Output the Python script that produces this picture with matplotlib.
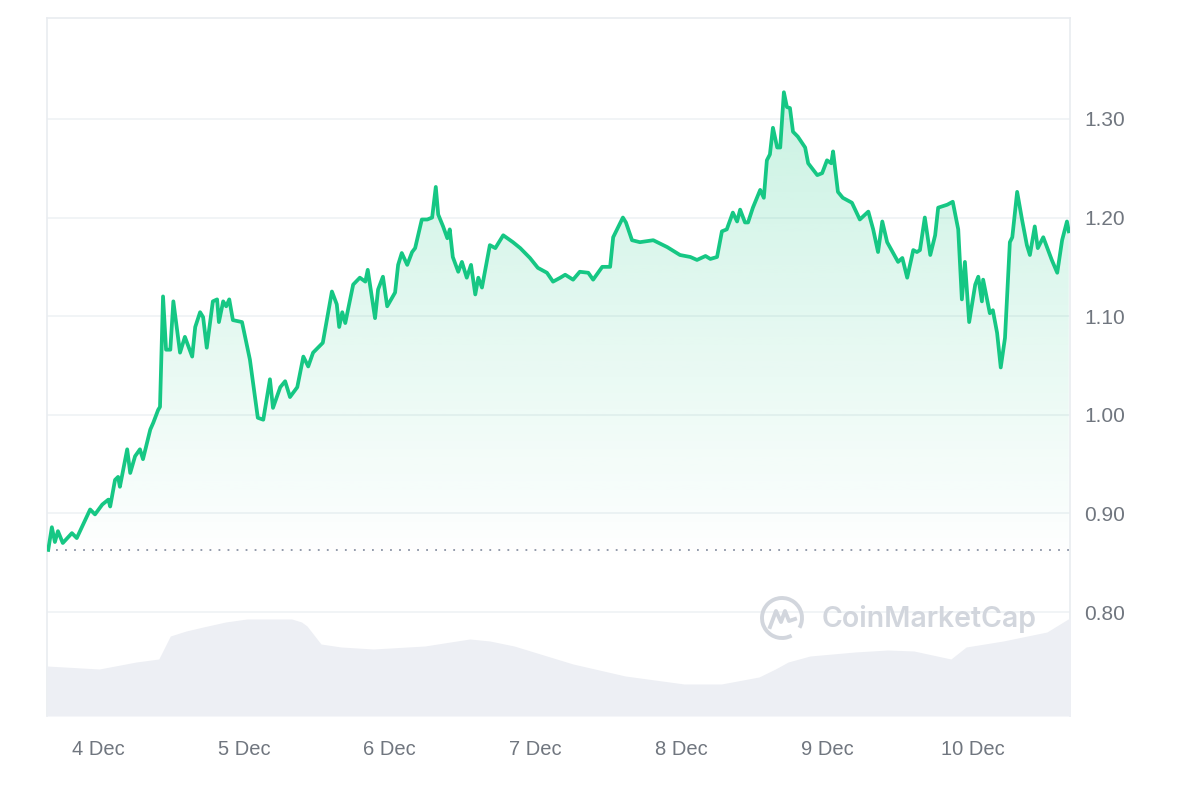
import matplotlib
matplotlib.use("Agg")
import matplotlib.pyplot as plt
import numpy as np
from matplotlib.patches import Arc

# hours since 4 Dec 00:00 and price in USD
hours = [-8.2, -7.6, -7.1, -6.6, -5.8, -4.3, -3.5, -1.3, -0.5, 0.7, 1.7, 2.0, 2.8, 3.3, 3.6,
         4.8, 5.3, 6.1, 6.9, 7.4, 8.6, 9.1, 9.9, 10.2, 10.7, 11.2, 11.9, 12.4, 13.5, 14.3,
         15.5, 16.0, 16.8, 17.3, 17.9, 18.9, 19.6, 19.9, 20.6, 21.1, 21.6, 22.2, 23.7, 25.0,
         26.3, 27.2, 28.3, 28.8, 30.0, 30.8, 31.6, 32.8, 33.8, 34.6, 35.4, 37.0, 38.5, 39.3,
         39.7, 40.2, 40.7, 42.0, 43.1, 44.0, 44.4, 45.6, 46.1, 46.9, 47.6, 48.9, 49.4, 50.0,
         50.9, 51.7, 52.2, 53.3, 54.2, 55.0, 55.6, 56.0, 56.8, 57.5, 57.9, 58.4, 59.3, 59.9,
         60.7, 61.4, 62.1, 62.6, 63.2, 64.5, 65.4, 66.7, 68.3, 69.5, 71.1, 72.4, 73.9, 74.9,
         76.1, 76.9, 78.2, 79.3, 80.7, 81.5, 83.0, 84.3, 84.8, 85.6, 86.4, 86.9, 87.9, 89.2,
         91.4, 93.7, 95.8, 97.5, 98.6, 100.0, 100.8, 101.9, 102.7, 103.5, 104.5, 105.2, 105.7,
         106.5, 107.0, 107.8, 109.0, 109.6, 110.1, 110.6, 111.1, 111.8, 112.3, 112.9, 113.4,
         113.9, 114.4, 115.2, 116.4, 116.9, 118.4, 119.2, 120.0, 120.7, 121.0, 121.8, 122.6,
         124.1, 125.4, 126.8, 127.6, 128.4, 129.1, 129.9, 131.7, 132.4, 133.2, 134.2, 134.8,
         135.3, 136.1, 137.0, 137.8, 138.3, 139.8, 140.7, 141.6, 142.2, 142.7, 143.4, 144.4,
         144.9, 145.5, 145.7, 146.8, 147.3, 148.0, 148.6, 149.3, 150.1, 150.5, 151.3, 152.1,
         152.9, 153.4, 154.2, 154.7, 155.6, 157.0, 157.9, 158.7, 159.5, 159.8]
prices = [0.863, 0.886, 0.871, 0.882, 0.870, 0.880, 0.875, 0.904, 0.899, 0.909, 0.914, 0.907, 0.934, 0.937, 0.927,
          0.965, 0.941, 0.958, 0.965, 0.955, 0.985, 0.992, 1.005, 1.008, 1.120, 1.066, 1.066, 1.115, 1.063, 1.079,
          1.059, 1.089, 1.104, 1.099, 1.068, 1.115, 1.117, 1.094, 1.115, 1.110, 1.117, 1.096, 1.094, 1.056,
          0.997, 0.995, 1.036, 1.007, 1.028, 1.034, 1.018, 1.028, 1.059, 1.049, 1.063, 1.073, 1.125, 1.112,
          1.089, 1.104, 1.093, 1.132, 1.139, 1.135, 1.147, 1.098, 1.127, 1.140, 1.110, 1.124, 1.152, 1.164,
          1.152, 1.165, 1.169, 1.198, 1.198, 1.200, 1.231, 1.203, 1.191, 1.179, 1.188, 1.160, 1.145, 1.155,
          1.139, 1.152, 1.122, 1.139, 1.129, 1.172, 1.169, 1.182, 1.175, 1.169, 1.159, 1.149, 1.144, 1.135,
          1.139, 1.142, 1.137, 1.145, 1.144, 1.137, 1.150, 1.150, 1.180, 1.190, 1.200, 1.195, 1.177, 1.175,
          1.177, 1.170, 1.162, 1.160, 1.157, 1.161, 1.158, 1.160, 1.186, 1.188, 1.205, 1.196, 1.208,
          1.195, 1.195, 1.210, 1.228, 1.220, 1.258, 1.264, 1.291, 1.271, 1.271, 1.327, 1.312,
          1.311, 1.287, 1.282, 1.271, 1.255, 1.243, 1.245, 1.258, 1.255, 1.267, 1.226, 1.220,
          1.215, 1.198, 1.206, 1.188, 1.165, 1.196, 1.175, 1.155, 1.159, 1.139, 1.167, 1.165,
          1.167, 1.200, 1.162, 1.182, 1.210, 1.213, 1.216, 1.188, 1.117, 1.155, 1.094, 1.132,
          1.140, 1.115, 1.137, 1.103, 1.106, 1.083, 1.048, 1.078, 1.175, 1.180, 1.226, 1.198,
          1.172, 1.162, 1.191, 1.169, 1.180, 1.157, 1.144, 1.177, 1.196, 1.186]

# trading volume (millions, approximate)
vol_hours = [-8.4, 0.2, 6.3, 10.0, 11.9, 14.5, 17.3, 21.0, 24.5, 31.9, 33.5, 34.4, 36.7, 40.0,
             45.3, 53.8, 58.0, 61.2, 64.5, 68.5, 78.2, 86.8, 96.5, 102.6, 108.8, 111.5, 113.6,
             117.2, 124.6, 130.0, 134.3, 140.4, 142.9, 149.0, 156.2, 160.5]
volume = [50, 47, 54, 57, 80, 85, 89, 94, 97, 97, 94, 90, 72, 69,
          67, 70, 74, 77, 75, 70, 52, 40, 32, 32, 39, 47, 54,
          60, 64, 66, 65, 57, 69, 75, 84, 100]

open_price = 0.863
y_ticks = [0.80, 0.90, 1.00, 1.10, 1.20, 1.30]
x_ticks = [0, 24, 48, 72, 96, 120, 144]
x_labels = ["4 Dec", "5 Dec", "6 Dec", "7 Dec", "8 Dec", "9 Dec", "10 Dec"]

green = "#16c784"
grid_c = "#eff2f5"
text_c = "#70767f"
plt.rcParams["font.family"] = ["Liberation Sans", "DejaVu Sans"]

fig = plt.figure(figsize=(12, 8), dpi=100)
ax = fig.add_axes([47 / 1200, 84 / 800, 1023 / 1200, 698 / 800])
x0, x1 = -8.4, 160.0
y0, y1 = 0.6946, 1.4023
ax.set_xlim(x0, x1)
ax.set_ylim(y0, y1)

# gradient fill under the price line
poly = ax.fill_between(hours, prices, y0, facecolor="none", edgecolor="none")
grad = np.zeros((256, 1, 4))
grad[..., :3] = matplotlib.colors.to_rgb(green)
lev = np.linspace(y0, 1.33, 256)
grad[:, 0, 3] = np.clip((lev - 0.85) / (1.33 - 0.85), 0, 1) * 0.23
im = ax.imshow(grad, extent=[x0, x1, y0, 1.33], origin="lower", aspect="auto", zorder=1)
im.set_clip_path(poly.get_paths()[0], transform=ax.transData)

ax.plot(hours, prices, color=green, lw=2.7, zorder=3, solid_joinstyle="round")
ax.axhline(open_price, color="#8a93a5", lw=1.3, ls=(0, (1, 4)), zorder=2)

# volume area at the bottom
ax2 = ax.twinx()
ax2.set_ylim(0, 698)
ax2.fill_between(vol_hours, volume, 0, color="#edeff4", lw=0)
ax2.set_yticks([])
for side in ax2.spines:
    ax2.spines[side].set_visible(False)

ax.set_yticks(y_ticks)
ax.set_yticklabels([f"{v:.2f}" for v in y_ticks])
ax.yaxis.tick_right()
ax.set_xticks(x_ticks)
ax.set_xticklabels(x_labels)
ax.tick_params(axis="y", length=0, pad=10, labelsize=15, labelcolor=text_c)
ax.tick_params(axis="x", length=0, pad=17, labelsize=14.5, labelcolor=text_c)
ax.grid(axis="y", color=grid_c, lw=1.2, zorder=0)
ax.set_axisbelow(True)
for side in ["top", "right", "left"]:
    ax.spines[side].set_color("#e9ecf0")
    ax.spines[side].set_linewidth(1.2)
ax.spines["bottom"].set_visible(False)

# watermark
wm = "#d2d6dd"
cx, cy, r = 782, 182, 20
fig.add_artist(Arc((cx / 1200, cy / 800), 2 * r / 1200, 2 * r / 800, theta1=-40, theta2=290,
                   transform=fig.transFigure, color=wm, lw=2.8))
wx = np.array([-12, -6, -1, 3, 7, 13]) + cx
wy = np.array([-9, 7, -4, 7, -3, -1]) + cy
fig.add_artist(plt.Line2D(wx / 1200, wy / 800, transform=fig.transFigure, color=wm, lw=2.8,
                          solid_joinstyle="round"))
fig.text(822 / 1200, 181 / 800, "CoinMarketCap", family=["Inter", "DejaVu Sans"], fontsize=20.5,
         fontweight="semibold", color=wm, ha="left", va="center")

fig.savefig("out.png", dpi=100, facecolor="white")
